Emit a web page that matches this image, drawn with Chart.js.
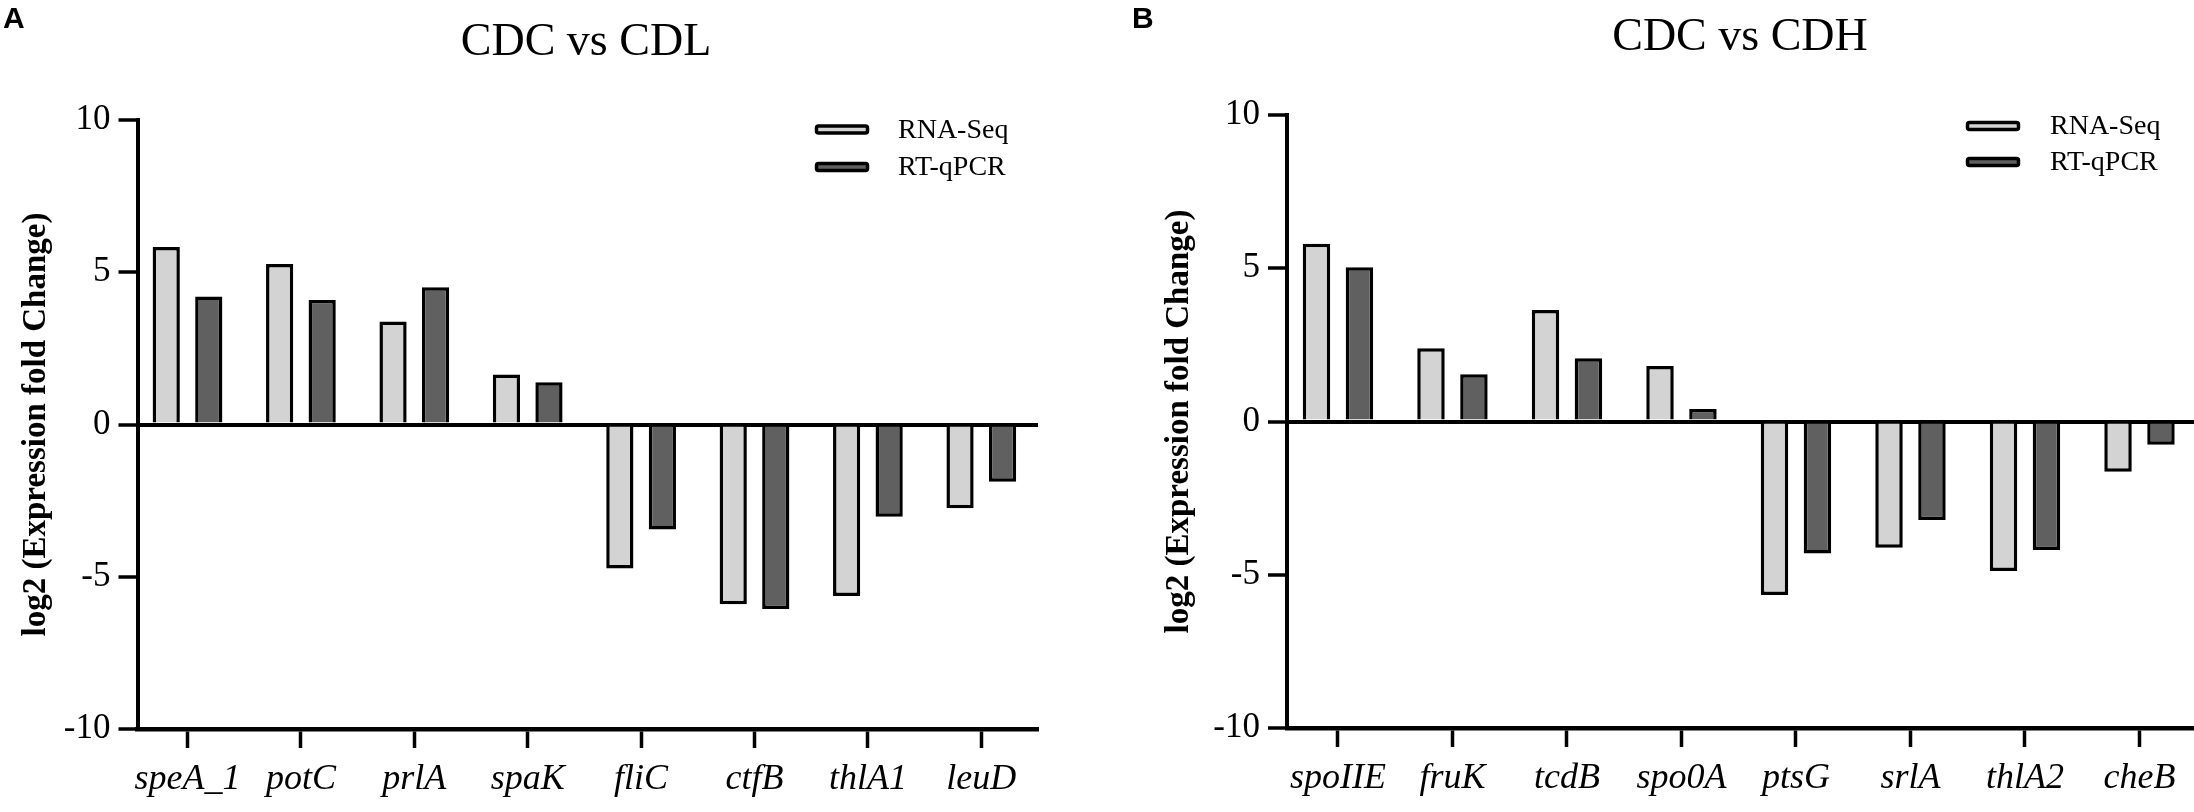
<!DOCTYPE html>
<html><head><meta charset="utf-8">
<script src="https://cdn.jsdelivr.net/npm/chart.js@4.4.1/dist/chart.umd.min.js"></script>
<style>
html,body{margin:0;padding:0;background:#fff;width:2194px;height:812px;overflow:hidden}
.panel{position:absolute;top:0;height:812px}
#wa{left:0;width:1100px}
#wb{left:1100px;width:1094px}
canvas{display:block}
</style></head><body>
<div class="panel" id="wa"><canvas id="ca"></canvas></div>
<div class="panel" id="wb"><canvas id="cb"></canvas></div>
<script>
// ---- data ----
const categoriesA = ['speA_1', 'potC', 'prlA', 'spaK', 'fliC', 'ctfB', 'thlA1', 'leuD'];
const rnaSeqA     = [5.83, 5.27, 3.38, 1.64, -4.73, -5.90, -5.63, -2.75];
const rtqPcrA     = [4.20, 4.09, 4.51, 1.39, -3.45, -6.06, -3.03, -1.88];

const categoriesB = ['spoIIE', 'fruK', 'tcdB', 'spo0A', 'ptsG', 'srlA', 'thlA2', 'cheB'];
const rnaSeqB     = [5.80, 2.39, 3.64, 1.81, -5.66, -4.12, -4.88, -1.64];
const rtqPcrB     = [5.03, 1.54, 2.06, 0.41, -4.31, -3.21, -4.19, -0.76];

const seriesLabels = ['RNA-Seq', 'RT-qPCR'];
const seriesColors = ['#d3d3d3', '#606060'];
const yMin = -10, yMax = 10, yStep = 5;
const titleA = 'CDC vs CDL';
const titleB = 'CDC vs CDH';
const yTitle = 'log2 (Expression fold Change)';

const SERIF = '"Liberation Serif", "Times New Roman", Times, serif';

const decor = {
  id: 'decor',
  afterDraw(chart, args, o) {
    const ctx = chart.ctx, ca = chart.chartArea;
    ctx.save();
    ctx.fillStyle = '#000';
    ctx.font = 'bold 30px "Liberation Sans", Arial, sans-serif';
    ctx.textAlign = 'left'; ctx.textBaseline = 'alphabetic';
    ctx.fillText(o.letter, o.letterX, 28);
    ctx.font = '46px ' + SERIF; ctx.textAlign = 'center';
    ctx.fillText(o.title, o.titleX, o.titleY);
    ctx.save();
    ctx.translate(o.yTitleX, (ca.top + ca.bottom) / 2);
    ctx.rotate(-Math.PI / 2);
    ctx.font = 'bold 33px ' + SERIF; ctx.textBaseline = 'middle'; ctx.textAlign = 'center';
    ctx.fillText(yTitle, 0, 0);
    ctx.restore();
    // legend
    chart.data.datasets.forEach((ds, i) => {
      const cy = o.legendY + i * o.legendGap;
      const x = o.legendX;
      ctx.beginPath();
      if (ctx.roundRect) ctx.roundRect(x + 1.5, cy - 3.5, 51, 7, 2); else ctx.rect(x + 1.5, cy - 3.5, 51, 7);
      ctx.fillStyle = ds.backgroundColor; ctx.fill();
      ctx.lineWidth = 3.5; ctx.strokeStyle = '#000'; ctx.stroke();
      ctx.fillStyle = '#000';
      ctx.font = '28px ' + SERIF; ctx.textAlign = 'left'; ctx.textBaseline = 'middle';
      ctx.fillText(ds.label, x + o.legendTextDx, cy + 1);
    });
    ctx.restore();
  }
};

function makeChart(id, cats, s1, s2, pad, xStart, xEnd, deco) {
  return new Chart(document.getElementById(id), {
    type: 'bar',
    data: {
      labels: cats,
      datasets: [
        { label: seriesLabels[0], data: s1, backgroundColor: seriesColors[0], borderColor: '#000', borderWidth: 3.5, borderSkipped: 'start' },
        { label: seriesLabels[1], data: s2, backgroundColor: seriesColors[1], borderColor: '#000', borderWidth: 3.5, borderSkipped: 'start' }
      ]
    },
    options: {
      responsive: true, maintainAspectRatio: false, animation: false, devicePixelRatio: 1,
      datasets: { bar: { categoryPercentage: 0.75, barPercentage: 0.64 } },
      layout: { autoPadding: false, padding: pad },
      plugins: { legend: { display: false }, tooltip: { enabled: false }, title: { display: false }, decor: deco },
      scales: {
        x: {
          type: 'category', offset: true,
          // the y axis sits a few pixels inside the first category slot
          afterBuildTicks: s => { s._startValue = xStart; s._valueRange = xEnd - xStart; },
          afterFit: s => { s.height = 70; },
          border: { display: true, color: '#000', width: 4.5 },
          grid: { offset: false, drawOnChartArea: false, drawTicks: true, tickLength: 19, tickColor: '#000', tickWidth: 3.5, color: '#000' },
          ticks: { color: '#000', padding: 10, maxRotation: 0, autoSkip: false, font: { family: SERIF, style: 'italic', size: 36 } }
        },
        y: {
          min: yMin, max: yMax, position: 'left',
          afterFit: s => { s.width = 100; },
          border: { display: true, color: '#000', width: 4 },
          grid: {
            drawTicks: true, tickLength: 19, tickColor: '#000', tickWidth: 3.5,
            color: c => (c.tick && c.tick.value === 0) ? '#000' : 'rgba(0,0,0,0)',
            lineWidth: c => (c.tick && c.tick.value === 0) ? 4 : 0
          },
          ticks: { stepSize: yStep, color: '#000', padding: 8, font: { family: SERIF, size: 35 } }
        }
      }
    },
    plugins: [decor]
  });
}

makeChart('ca', categoriesA, rnaSeqA, rtqPcrA,
  { left: 37.5, right: 62, top: 120, bottom: 13 }, -0.441, 7.5,
  { letter: 'A', letterX: 3, title: titleA, titleX: 586, titleY: 55, yTitleX: 36,
    legendX: 815, legendY: 129.5, legendGap: 37.5, legendTextDx: 83 });

makeChart('cb', categoriesB, rnaSeqB, rtqPcrB,
  { left: 87, right: 0, top: 115, bottom: 14 }, -0.445, 7.476,
  { letter: 'B', letterX: 32, title: titleB, titleX: 640, titleY: 50, yTitleX: 79,
    legendX: 866, legendY: 126, legendGap: 36, legendTextDx: 84 });
</script>
</body></html>
